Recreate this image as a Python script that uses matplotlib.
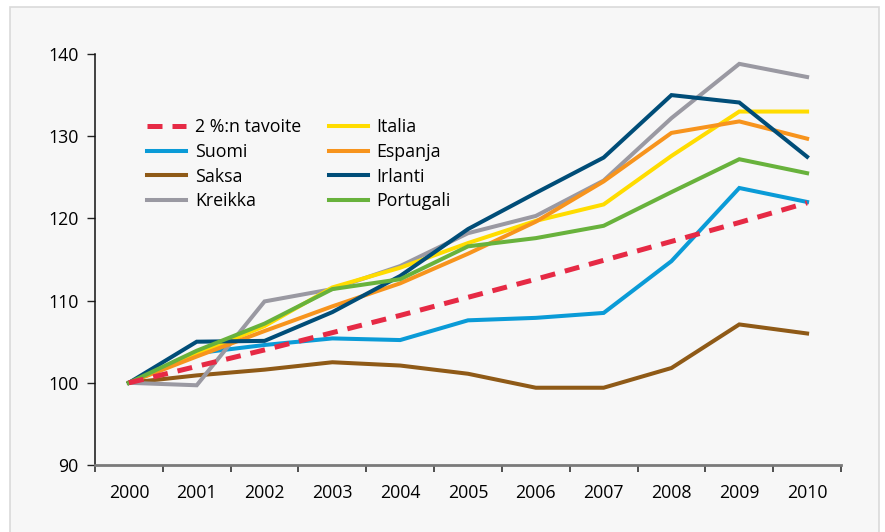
"""Inflation index chart, 2000 = 100, with 2 % target line."""

import matplotlib.pyplot as plt
from matplotlib.patches import Rectangle
from matplotlib.ticker import FixedLocator

plt.rcParams["font.family"] = ["Open Sans", "DejaVu Sans"]

years = ["2000", "2001", "2002", "2003", "2004", "2005",
         "2006", "2007", "2008", "2009", "2010"]

tavoite = [100, 102.0, 104.0, 106.1, 108.2, 110.4, 112.6, 114.9, 117.2, 119.5, 121.9]
suomi = [100, 103.6, 104.6, 105.4, 105.2, 107.6, 107.9, 108.5, 114.8, 123.7, 122.0]
saksa = [100, 100.9, 101.6, 102.5, 102.1, 101.1, 99.4, 99.4, 101.8, 107.1, 106.0]
kreikka = [100, 99.7, 109.9, 111.4, 114.2, 118.2, 120.3, 124.6, 132.2, 138.8, 137.2]
italia = [100, 103.5, 106.9, 111.6, 114.0, 117.0, 119.7, 121.7, 127.6, 133.0, 133.0]
espanja = [100, 103.2, 106.3, 109.3, 112.1, 115.7, 119.6, 124.5, 130.4, 131.8, 129.7]
irlanti = [100, 105.0, 105.1, 108.6, 113.0, 118.7, 123.1, 127.4, 135.0, 134.1, 127.5]
portugali = [100, 103.9, 107.2, 111.4, 112.6, 116.6, 117.6, 119.1, 123.2, 127.2, 125.5]

series = [
    ("2 %:n tavoite", tavoite, "#e62a45"),
    ("Suomi", suomi, "#0a9bd7"),
    ("Saksa", saksa, "#8f5a17"),
    ("Kreikka", kreikka, "#9a99a2"),
    ("Italia", italia, "#ffdc00"),
    ("Espanja", espanja, "#f7941d"),
    ("Irlanti", irlanti, "#004d78"),
    ("Portugali", portugali, "#68b23c"),
]

fig = plt.figure(figsize=(8.85, 5.32), dpi=100, facecolor="white")

# light grey panel behind the chart
fig.patches.append(Rectangle((10 / 885, -0.05), 869 / 885, 1.05 - 7 / 532,
                             transform=fig.transFigure, facecolor="#f7f7f7",
                             edgecolor="#dadada", linewidth=1.2, zorder=-5))

ax = fig.add_axes([95 / 885, 1 - 465 / 532, 746 / 885, 411 / 532])
ax.set_facecolor("none")

x = list(range(len(years)))
lines = []
for name, vals, col in series:
    if name.startswith("2 %"):
        (ln,) = ax.plot(x, vals, color=col, lw=3.6, dashes=(3, 2),
                        dash_capstyle="butt", label=name, zorder=5)
    else:
        (ln,) = ax.plot(x, vals, color=col, lw=2.9, label=name,
                        solid_joinstyle="miter")
    lines.append(ln)
# put the target line on top of the others
lines[0].set_zorder(10)

ax.set_xlim(-0.5, len(years) - 0.5)
ax.set_ylim(90, 140)
ax.set_yticks([90, 100, 110, 120, 130, 140])

ax.set_xticks(x)
ax.set_xticklabels(years)
ax.xaxis.set_minor_locator(FixedLocator([i - 0.5 for i in range(len(years) + 1)]))
ax.tick_params(axis="x", which="major", length=0, pad=14, labelsize=12.8)
ax.tick_params(axis="x", which="minor", length=5, width=1.2, color="#333333",
               direction="out")
ax.tick_params(axis="y", length=6, width=1, color="#222222", pad=6,
               labelsize=12.8)

for side in ("top", "right"):
    ax.spines[side].set_visible(False)
ax.spines["left"].set_color("#111111")
ax.spines["left"].set_linewidth(1.1)
ax.spines["bottom"].set_color("#7a7a7a")
ax.spines["bottom"].set_linewidth(2)

ax.legend(ncol=2, frameon=False, loc="upper left",
          bbox_to_anchor=(147 / 885, 1 - 118 / 532),
          bbox_transform=fig.transFigure, fontsize=12.8,
          handlelength=2.2, handletextpad=0.5, columnspacing=1.55,
          labelspacing=0.38, borderpad=0, borderaxespad=0)

plt.savefig("out.png", dpi=100, facecolor=fig.get_facecolor())
